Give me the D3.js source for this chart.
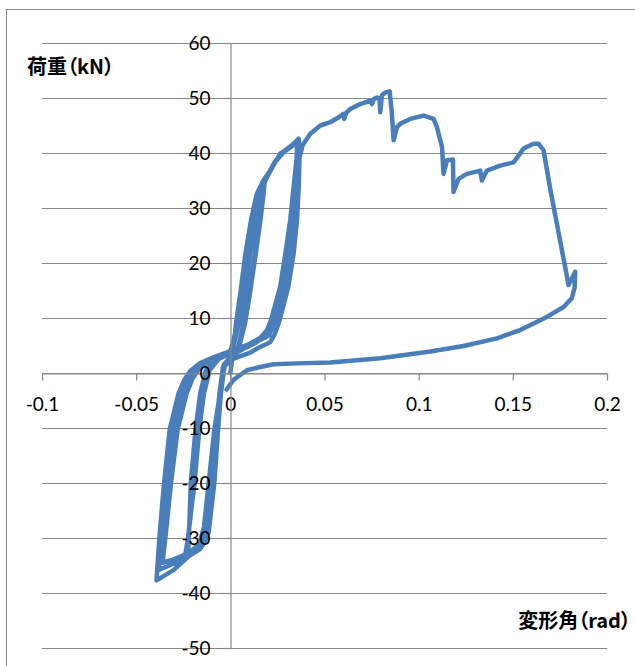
<!DOCTYPE html>
<html>
<head>
<meta charset="utf-8">
<script src="https://cdn.jsdelivr.net/npm/d3@7"></script>
<style>
  html, body { margin: 0; padding: 0; background: #fff; }
  svg { display: block; }
</style>
</head>
<body>
<svg id="chart" width="635" height="666"></svg>
<script>
// ---- data (rotation angle in rad, load in kN) ----
const xTicks = [-0.1, -0.05, 0, 0.05, 0.1, 0.15, 0.2];
const xTickLabels = ["-0.1", "-0.05", "0", "0.05", "0.1", "0.15", "0.2"];
const yTicks = [-50, -40, -30, -20, -10, 0, 10, 20, 30, 40, 50, 60];
const yTickLabels = ["-50", "-40", "-30", "-20", "-10", "0", "10", "20", "30", "40", "50", "60"];
const yTitle = "荷重（kN）";
const xTitle = "変形角（rad）";

const smallCycle1 = [
  [0,0],[0.0015,4],[0.003,9],[0.0055,15],[0.008,21.7],[0.011,27.8],[0.014,32.5],[0.0175,35],
  [0.0172,33],[0.0155,27.8],[0.013,21.7],[0.0095,14],[0.007,9],[0.004,4.5],[0.001,3],[-0.003,1.5],
  [-0.005,-3.7],[-0.0075,-10.3],[-0.010,-20],[-0.0125,-28],[-0.015,-31],[-0.019,-32.5],[-0.0225,-33],
  [-0.022,-30],[-0.021,-20],[-0.0185,-10.3],[-0.016,-3.7],[-0.013,0.5],[-0.008,2.5],[-0.002,3.3],[0.001,3.5]
];
const smallCycle2 = [
  [0.0035,9.6],[0.0058,15],[0.0088,21.7],[0.0118,27.8],[0.015,33],[0.0182,35.2],
  [0.0178,33],[0.016,27.8],[0.0135,21.7],[0.0102,14],[0.0078,9],[0.0045,4.5],[0.001,2.8],[-0.003,1.3],
  [-0.0055,-3.7],[-0.0085,-10.3],[-0.0115,-20],[-0.014,-28],[-0.0165,-31],[-0.021,-32.5],[-0.024,-33.2],
  [-0.0225,-30],[-0.019,-20],[-0.0165,-10.3],[-0.014,-3.7],[-0.011,0.5],[-0.006,2.6],[0,3.5]
];
const bigCycle1 = [
  [0.003,8],[0.0055,14],[0.0085,21.7],[0.0115,27.8],[0.015,33],[0.0185,35.5],[0.0212,36.8],[0.0265,39.9],[0.0318,41.1],[0.0363,42.6],
  [0.0368,40],[0.0363,33.8],[0.0354,27.8],[0.0336,21.7],[0.0308,15.7],[0.0262,9.6],[0.0235,7],[0.0212,5.6],[0.015,4.6],[0.0106,3.7],[0.0018,2.6],[-0.004,1],
  [-0.0055,-3.7],[-0.007,-10.3],[-0.009,-20],[-0.0125,-30],[-0.016,-32],[-0.022,-33.3],[-0.030,-35.8],[-0.0392,-37.7],
  [-0.0377,-30],[-0.0352,-20],[-0.0322,-10.3],[-0.0275,-3.7],[-0.0245,-1.3],[-0.0215,0.3],[-0.016,1.8],[-0.008,3],[0,4]
];
const bigCycle2 = [
  [0.0055,10],[0.0085,17],[0.0105,21.7],[0.0135,27.8],[0.0165,33],[0.0195,35.8],[0.024,38.6],[0.029,40.5],[0.0335,41.6],[0.036,42.2],
  [0.0362,40],[0.0349,33.8],[0.0336,27.8],[0.0315,21.7],[0.0287,15.7],[0.0239,9.6],[0.0205,6.8],[0.0159,6.0],[0.0089,5.1],[0.0018,3.6],[-0.0035,1.5],
  [-0.005,-3.7],[-0.0065,-10.3],[-0.0085,-20],[-0.0115,-29],[-0.015,-31.5],[-0.021,-32.7],[-0.029,-34.5],[-0.038,-35.8],
  [-0.0362,-30],[-0.0335,-20],[-0.0302,-10.3],[-0.0255,-3.7],[-0.0225,-1.1],[-0.019,0.6],[-0.013,2.2],[-0.006,3.2],[0.001,4]
];
const bigCycle3 = [
  [0.0045,9],[0.007,15],[0.0095,21.7],[0.0125,27.8],[0.0158,33],[0.019,35.3],[0.0235,38.2],[0.0285,40.2],[0.033,41.3],[0.0355,41.8],
  [0.0352,39],[0.0336,33.8],[0.0318,27.8],[0.0292,21.7],[0.0265,15.7],[0.0216,9.6],[0.0185,7],[0.0135,5.5],[0.007,4.4],[0.001,3.2],[-0.0038,1.2],
  [-0.0058,-3.7],[-0.0075,-10.3],[-0.0098,-20],[-0.013,-29],[-0.017,-31.5],[-0.024,-33],[-0.031,-34],[-0.036,-34.5],
  [-0.0345,-30],[-0.0315,-20],[-0.028,-10.3],[-0.0232,-3.7],[-0.0202,-1.1],[-0.017,0.6],[-0.011,2.4],[-0.005,3.3],[0.002,4.2]
];
const finalLoading = [
  [0.009,5.1],[0.016,6.4],[0.02,8],[0.0225,10.5],[0.0272,15.7],[0.0302,21.7],[0.0326,27.8],[0.0343,33.8],[0.0362,38.5],[0.0385,41.5],[0.0425,43.5],[0.0478,45]
];
const envelope = [
  [0.0531,45.6],[0.058,46.6],[0.0601,47.1],[0.0605,46.2],[0.0615,47.3],[0.0637,48.0],[0.069,48.9],[0.0743,49.5],[0.0752,48.9],
  [0.0762,49.8],[0.0779,50.1],[0.0792,49.8],[0.0796,47.4],[0.0805,50.5],[0.0823,51.0],[0.0846,51.2],[0.0858,47.1],[0.0867,42.3],
  [0.0885,44.7],[0.0902,45.3],[0.0955,46.2],[0.1026,46.8],[0.1079,46.2],[0.1097,44.7],[0.1124,41.1],[0.1132,36.2],[0.115,38.7],
  [0.1182,38.8],[0.1185,32.9],[0.1212,35.3],[0.1256,36.2],[0.1327,36.8],[0.1336,35.0],[0.1362,36.8],[0.1433,37.7],[0.1504,38.3],
  [0.1557,40.8],[0.161,41.7],[0.1636,41.7],[0.1663,40.5],[0.170,33.2],[0.1796,16.0],[0.1831,18.4],[0.1828,15.5],[0.1813,13.6]
];
const lowerCurve = [
  [0.1769,12.0],[0.1681,10.2],[0.1539,7.8],[0.1416,6.3],[0.1238,4.9],[0.1062,3.9],[0.0796,2.7],[0.053,1.9],[0.0354,1.75],
  [0.023,1.6],[0.0159,1.1],[0.0088,0.5],[0.0018,-1.2],[-0.002,-3]
];

const series = [].concat(smallCycle1, smallCycle2, bigCycle1, bigCycle2, bigCycle3, finalLoading, envelope, lowerCurve);

// ---- drawing ----
const svg = d3.select("#chart");
const gridColor = "#878787";
const font = "Lato, 'Open Sans', sans-serif";

const x = d3.scaleLinear().domain([-0.1, 0.2]).range([42, 607]);
const y = d3.scaleLinear().domain([-50, 60]).range([648, 43]);

// outer frame
svg.append("rect")
  .attr("x", 6.5).attr("y", 9.5).attr("width", 700).attr("height", 700)
  .attr("fill", "#fff").attr("stroke", gridColor).attr("stroke-width", 1);

// horizontal gridlines
svg.append("g").selectAll("line").data(yTicks).join("line")
  .attr("x1", x(-0.1)).attr("x2", x(0.2))
  .attr("y1", d => Math.round(y(d)) + 0.5).attr("y2", d => Math.round(y(d)) + 0.5)
  .attr("stroke", gridColor).attr("stroke-width", 1.2);

// x axis (at y = 0)
const xAxis = svg.append("g")
  .attr("transform", `translate(0,${Math.round(y(0)) + 0.5})`)
  .call(d3.axisBottom(x).tickValues(xTicks).tickFormat((d, i) => xTickLabels[i])
    .tickSize(7).tickSizeOuter(0).tickPadding(17));

// y axis (at x = 0)
const yAxis = svg.append("g")
  .attr("transform", `translate(${Math.round(x(0)) + 0.5},0)`)
  .call(d3.axisLeft(y).tickValues(yTicks).tickFormat((d, i) => yTickLabels[i])
    .tickSize(8).tickSizeOuter(0).tickPadding(12));

[xAxis, yAxis].forEach(g => {
  g.selectAll("path.domain").attr("stroke", gridColor).attr("stroke-width", 1.2);
  g.selectAll(".tick line").attr("stroke", gridColor).attr("stroke-width", 1.2);
  g.selectAll(".tick text").attr("fill", "#000").style("font-family", font).style("font-size", "19px");
});

// data line
const line = d3.line().x(d => x(d[0])).y(d => y(d[1]));
svg.append("path")
  .datum(series)
  .attr("d", line)
  .attr("fill", "none")
  .attr("stroke", "#4a7ebb")
  .attr("stroke-width", 4.5)
  .attr("stroke-linejoin", "round")
  .attr("stroke-linecap", "round");

// tick labels above the data line
xAxis.raise();
yAxis.raise();

// axis titles
const titleStyle = sel => sel
  .style("font-family", "'Noto Sans CJK JP', sans-serif")
  .style("font-weight", "bold").style("font-size", "20px")
  .style("font-feature-settings", "'palt' 1");

svg.append("text")
  .attr("x", 27).attr("y", 67).attr("dy", "0.36em")
  .call(titleStyle)
  .text(yTitle);

svg.append("text")
  .attr("x", 631).attr("y", 621).attr("dy", "0.36em")
  .attr("text-anchor", "end")
  .call(titleStyle)
  .text(xTitle);
</script>
</body>
</html>
